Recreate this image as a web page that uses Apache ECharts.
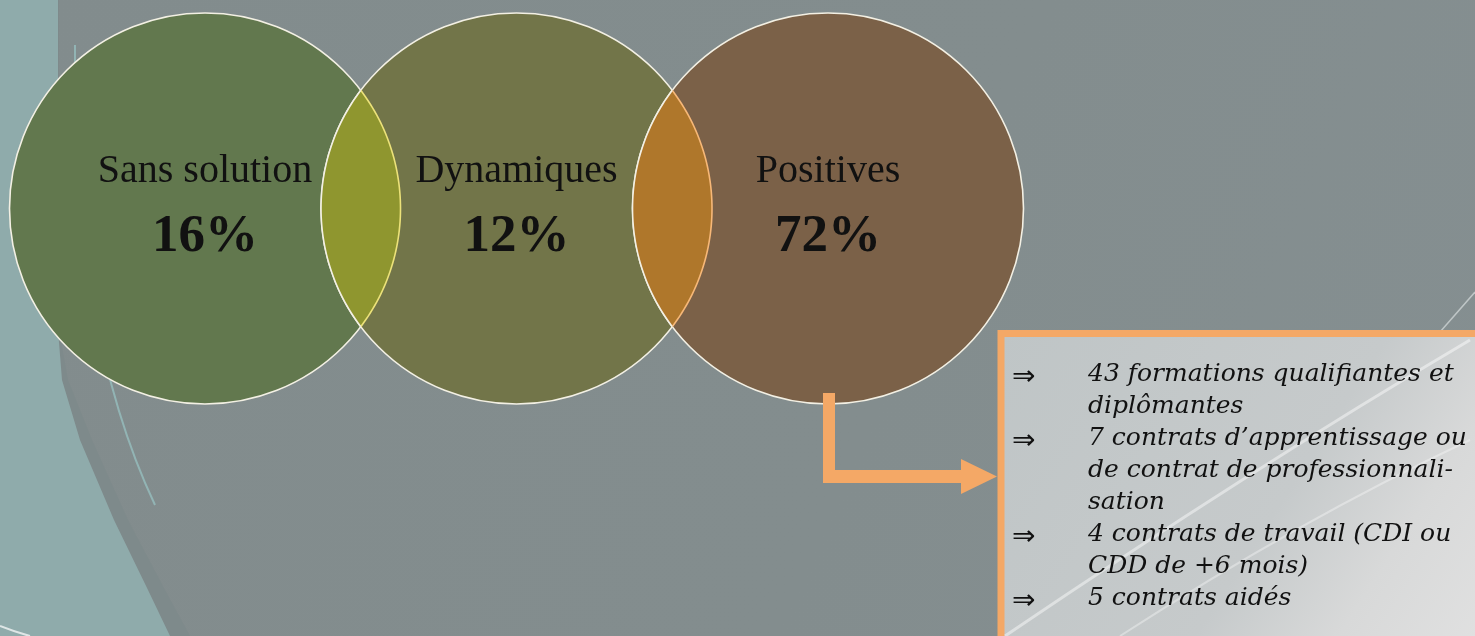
<!DOCTYPE html>
<html><head><meta charset="utf-8">
<script src="https://cdn.jsdelivr.net/npm/echarts@6/dist/echarts.min.js"></script>
<style>html,body{margin:0;padding:0;background:#838d8e;overflow:hidden}#c{width:1475px;height:636px}</style>
</head><body><div id="c"></div>
<script>
// ---- data ----
const categories = ['Sans solution', 'Dynamiques', 'Positives'];
const shares = [16, 12, 72];
const detailArrows = ['⇒', '', '⇒', '', '', '⇒', '', '⇒'];
const detailLines = [
  '43 formations qualifiantes et',
  'diplômantes',
  '7 contrats d’apprentissage ou',
  'de contrat de professionnali-',
  'sation',
  '4 contrats de travail (CDI ou',
  'CDD de +6 mois)',
  '5 contrats aidés'
];

// ---- styles ----
const circleFills = ['#62784e', '#727549', '#7b6148'];
const lensFills = ['#8f962f', '#af772b'];
const lensEdges = ['#ece27a', '#f7b878'];
const ORANGE = '#f4a866';
const SERIF = '"DejaVu Serif", "Liberation Serif", serif';
const NAME_FONT = '"Liberation Serif", serif';

const chart = echarts.init(document.getElementById('c'), null, {renderer: 'canvas'});

function renderCircle(params, api) {
  const i = params.dataIndex;
  const c = api.coord([api.value(0), api.value(1)]);
  const r = api.size([0, 2])[1] / 2;
  return {
    type: 'group',
    children: [
      {type: 'circle', shape: {cx: c[0], cy: c[1], r: r},
       style: {fill: circleFills[i], stroke: '#f3f0e4', lineWidth: 1.6}},
      {type: 'text', x: c[0], y: c[1] - 37,
       style: {text: categories[i], fontFamily: NAME_FONT, fontSize: 40,
               fill: '#111', align: 'center', verticalAlign: 'middle'}},
      {type: 'text', x: c[0], y: c[1] + 29,
       style: {text: api.value(2) + '%', fontFamily: NAME_FONT, fontSize: 53, fontWeight: 'bold',
               fill: '#111', align: 'center', verticalAlign: 'middle'}}
    ]
  };
}

function renderLens(params, api) {
  const j = params.dataIndex;
  const c1 = api.coord([api.value(0), 0]);
  const c2 = api.coord([api.value(1), 0]);
  const r = api.size([0, 2])[1] / 2;
  const d = c2[0] - c1[0];
  const a = Math.acos((d / 2) / r);
  const N = 60;
  const arc1 = [], arc2 = [];
  for (let k = 0; k <= N; k++) {
    const t = -a + 2 * a * k / N;
    arc1.push([c1[0] + r * Math.cos(t), c1[1] + r * Math.sin(t)]);
  }
  for (let k = 0; k <= N; k++) {
    const t = Math.PI - a + 2 * a * k / N;
    arc2.push([c2[0] + r * Math.cos(t), c2[1] + r * Math.sin(t)]);
  }
  return {
    type: 'group',
    children: [
      {type: 'polygon', shape: {points: arc1.concat(arc2)}, style: {fill: lensFills[j]}},
      {type: 'polyline', shape: {points: arc1}, style: {stroke: lensEdges[j], lineWidth: 1.6, fill: null}},
      {type: 'polyline', shape: {points: arc2}, style: {stroke: '#f3f0e4', lineWidth: 1.6, fill: null}}
    ]
  };
}

const circleData = categories.map((c, i) => [i, 0, shares[i]]);
const lensData = categories.slice(1).map((c, i) => [i, i + 1]);

chart.setOption({
  animation: false,
  backgroundColor: '#838d8e',
  grid: {left: 205, right: 647, top: 13, bottom: 232},
  xAxis: {type: 'value', min: 0, max: 2, show: false},
  yAxis: {type: 'value', min: -1, max: 1, show: false},
  series: [
    {type: 'custom', coordinateSystem: 'cartesian2d', renderItem: renderCircle, data: circleData, z: 2},
    {type: 'custom', coordinateSystem: 'cartesian2d', renderItem: renderLens, data: lensData, z: 3}
  ]
});

// annotations
const ax = chart.convertToPixel({xAxisIndex: 0}, 2);
const lineY0 = 374, lineH = 32;
const graphics = [
  // background decoration
  {type: 'rect', z: -10, shape: {x: 0, y: 0, width: 1475, height: 636},
   style: {fill: new echarts.graphic.LinearGradient(0, 0, 1, 1, [
     {offset: 0, color: '#828c8d'}, {offset: 0.6, color: '#838d8e'}, {offset: 1, color: '#858f91'}])}},
  {type: 'polygon', z: -9, shape: {points: [[0,0],[59,0],[59,330],[68,380],[92,440],[128,520],[165,590],[190,636],[0,636]]},
   style: {fill: '#7e8a8b'}},
  {type: 'polygon', z: -8, shape: {points: [[0,0],[58,0],[58,330],[62,380],[80,440],[114,520],[148,590],[170,636],[0,636]]},
   style: {fill: '#8fabab'}},
  {type: 'bezierCurve', z: -7, shape: {x1: 75, y1: 45, cpx1: 72, cpy1: 330, x2: 155, y2: 505},
   style: {stroke: 'rgba(150,190,190,0.8)', lineWidth: 2, fill: null}},
  {type: 'bezierCurve', z: -7, shape: {x1: 0, y1: 626, cpx1: 15, cpy1: 632, x2: 30, y2: 636},
   style: {stroke: 'rgba(255,255,255,0.7)', lineWidth: 2, fill: null}},
  {type: 'line', z: -7, shape: {x1: 1440, y1: 332, x2: 1475, y2: 292},
   style: {stroke: 'rgba(230,235,235,0.6)', lineWidth: 1.5}},
  // box
  {type: 'rect', z: 10, shape: {x: 1001, y: 333.5, width: 500, height: 320},
   style: {fill: new echarts.graphic.LinearGradient(0, 0, 1, 1, [
     {offset: 0, color: '#bfc5c6'}, {offset: 0.55, color: '#c6cacb'}, {offset: 0.75, color: '#d8d9d9'}, {offset: 1, color: '#e2e2e2'}]),
     stroke: ORANGE, lineWidth: 7}},
  {type: 'bezierCurve', z: 11, shape: {x1: 1005, y1: 636, cpx1: 1250, cpy1: 470, x2: 1470, y2: 340},
   style: {stroke: 'rgba(255,255,255,0.45)', lineWidth: 3, fill: null}},
  {type: 'bezierCurve', z: 11, shape: {x1: 1120, y1: 636, cpx1: 1300, cpy1: 520, x2: 1470, y2: 440},
   style: {stroke: 'rgba(255,255,255,0.35)', lineWidth: 2, fill: null}},
  // arrow
  {type: 'polygon', z: 12, shape: {points: [
    [ax - 5, 393], [ax + 7, 393], [ax + 7, 470], [961, 470], [961, 459], [997, 476.5],
    [961, 494], [961, 483], [ax - 5, 483]]},
   style: {fill: ORANGE}}
];
detailLines.forEach((t, k) => {
  graphics.push({type: 'text', z: 13, x: 1088, y: lineY0 + k * lineH,
    style: {text: t, fontFamily: SERIF, fontStyle: 'italic', fontSize: 25, fill: '#111', verticalAlign: 'middle'}});
  if (detailArrows[k]) {
    graphics.push({type: 'text', z: 13, x: 1012, y: lineY0 + 4 + k * lineH,
      style: {text: detailArrows[k], fontFamily: '"DejaVu Sans", sans-serif', fontSize: 28, fill: '#111', verticalAlign: 'middle'}});
  }
});
chart.setOption({graphic: {elements: graphics}});
</script>
</body></html>
